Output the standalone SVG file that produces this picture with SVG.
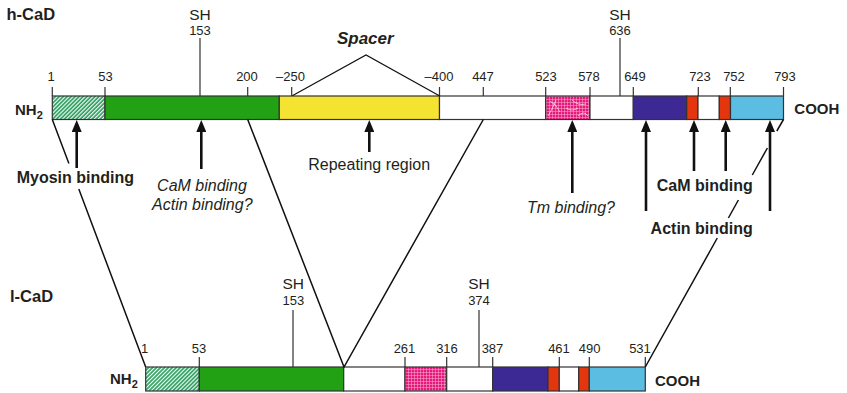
<svg xmlns="http://www.w3.org/2000/svg" width="847" height="393" viewBox="0 0 847 393">
<defs>
<pattern id="hatch" patternUnits="userSpaceOnUse" width="2.8" height="2.8" patternTransform="rotate(45)">
<rect width="2.8" height="2.8" fill="#ffffff"/>
<line x1="1" y1="0" x2="1" y2="2.8" stroke="#1e9a55" stroke-width="1.6"/>
</pattern>
<pattern id="pink" patternUnits="userSpaceOnUse" width="3" height="3">
<rect width="3" height="3" fill="#e8197c"/>
<path d="M0,0.3 H3 M0.3,0 V3" stroke="#f7b8d4" stroke-width="0.6"/>
</pattern>
<marker id="ahd" viewBox="0 0 12 10" refX="0" refY="5" markerWidth="12" markerHeight="10" markerUnits="userSpaceOnUse" orient="auto">
<path d="M0,0 L12,5 L0,10 z" fill="#111"/>
</marker>
</defs>
<style>
.seg{stroke:#333;stroke-width:1.2}
.tick{stroke:#333;stroke-width:1.2;fill:none}
.num{font-family:"Liberation Sans",Arial,sans-serif;font-size:13px;fill:#231f20;text-anchor:middle}
.sh{font-family:"Liberation Sans",Arial,sans-serif;font-size:15.5px;fill:#231f20;text-anchor:middle}
.lbl{font-family:"Liberation Sans",Arial,sans-serif;font-size:16px;fill:#231f20}
.b{font-weight:bold}
.i{font-style:italic}
.mid{text-anchor:middle}
.arrow{stroke:#111;stroke-width:2.6;fill:none;marker-end:url(#ahd)}
.conn{stroke:#111;stroke-width:1.5;fill:none}
.sp{stroke:#111;stroke-width:1.2;fill:none}
</style>

<g id="h-CaD">
<text class="lbl b" x="6.5" y="20" style="font-size:16.5px">h-CaD</text>
<text class="lbl b" x="15" y="115" style="font-size:15px">NH<tspan dy="4" style="font-size:11px">2</tspan></text>
<text class="lbl b" x="794.3" y="114" style="font-size:15px">COOH</text>
<g id="h-bar">
<rect class="seg" x="52.3" y="96" width="52.7" height="23.5" fill="url(#hatch)"/>
<rect class="seg" x="105" y="96" width="174.3" height="23.5" fill="#22a114"/>
<rect class="seg" x="279.3" y="96" width="160.2" height="23.5" fill="#f5e331"/>
<rect class="seg" x="439.5" y="96" width="106.2" height="23.5" fill="#ffffff"/>
<rect class="seg" x="545.7" y="96" width="44.3" height="23.5" fill="url(#pink)"/>
<path d="M550,101 Q556,104 560,112 M556,100 Q552,110 548,116 M572,100 Q578,106 586,104 M578,116 Q584,110 588,116 M566,108 Q572,112 578,108" stroke="#fff" stroke-width="0.8" fill="none" opacity="0.8"/>
<rect class="seg" x="590" y="96" width="43.3" height="23.5" fill="#ffffff"/>
<rect class="seg" x="633.3" y="96" width="53.4" height="23.5" fill="#3d2993"/>
<rect class="seg" x="686.7" y="96" width="11.3" height="23.5" fill="#e3360f"/>
<rect class="seg" x="698" y="96" width="21.3" height="23.5" fill="#ffffff"/>
<rect class="seg" x="719.3" y="96" width="11.2" height="23.5" fill="#e3360f"/>
<rect class="seg" x="730.5" y="96" width="53" height="23.5" fill="#5bbde1"/>
</g>
<g id="h-ticks">
<path class="tick" d="M52.3,87V96 M105,87V96 M247.7,87V96 M291.7,87V96 M439.5,87V96 M483.3,87V96 M545.7,87V96 M590,87V96 M633.3,87V96 M698.3,87V96 M730.3,87V96 M783.5,87V96 M200,38V96 M620,38V96"/>
<text class="num" x="51" y="80.5">1</text>
<text class="num" x="105.5" y="80.5">53</text>
<text class="num" x="247" y="80.5">200</text>
<text class="num" x="290.5" y="80.5">–250</text>
<text class="num" x="439" y="80.5">–400</text>
<text class="num" x="483" y="80.5">447</text>
<text class="num" x="546" y="80.5">523</text>
<text class="num" x="589" y="80.5">578</text>
<text class="num" x="635" y="80.5">649</text>
<text class="num" x="700" y="80.5">723</text>
<text class="num" x="734" y="80.5">752</text>
<text class="num" x="785" y="80.5">793</text>
<text class="sh" x="200" y="20">SH</text>
<text class="num" x="200" y="35">153</text>
<text class="sh" x="620" y="20">SH</text>
<text class="num" x="620" y="35">636</text>
</g>
<g id="spacer">
<path class="sp" d="M292.3,95.7 L366,55 L439.3,95.7"/>
<text class="lbl b i mid" x="365.3" y="44" style="font-size:17px">Spacer</text>
</g>
</g>

<g id="l-CaD">
<text class="lbl b" x="10" y="301.5" style="font-size:16.5px">l-CaD</text>
<text class="lbl b" x="110" y="384" style="font-size:15px">NH<tspan dy="4" style="font-size:11px">2</tspan></text>
<text class="lbl b" x="655" y="385.5" style="font-size:15px">COOH</text>
<g id="l-bar">
<rect class="seg" x="145.7" y="367" width="53.6" height="24" fill="url(#hatch)"/>
<rect class="seg" x="199.3" y="367" width="144.4" height="24" fill="#22a114"/>
<rect class="seg" x="343.7" y="367" width="61.3" height="24" fill="#ffffff"/>
<rect class="seg" x="405" y="367" width="41.7" height="24" fill="url(#pink)"/>
<rect class="seg" x="446.7" y="367" width="46" height="24" fill="#ffffff"/>
<rect class="seg" x="492.7" y="367" width="55.3" height="24" fill="#3d2993"/>
<rect class="seg" x="548" y="367" width="11.3" height="24" fill="#e3360f"/>
<rect class="seg" x="559.3" y="367" width="19.4" height="24" fill="#ffffff"/>
<rect class="seg" x="578.7" y="367" width="10.6" height="24" fill="#e3360f"/>
<rect class="seg" x="589.3" y="367" width="56" height="24" fill="#5bbde1"/>
</g>
<g id="l-ticks">
<path class="tick" d="M199.3,357V367 M405,357V367 M446.7,357V367 M492.7,357V367 M559.3,357V367 M589.3,357V367 M645.3,357V367 M293,310V367 M479,310V367"/>
<text class="num" x="144.5" y="352.5">1</text>
<text class="num" x="199" y="352.5">53</text>
<text class="num" x="404.5" y="352.5">261</text>
<text class="num" x="447" y="352.5">316</text>
<text class="num" x="492.5" y="352.5">387</text>
<text class="num" x="559" y="352.5">461</text>
<text class="num" x="589.7" y="352.5">490</text>
<text class="num" x="640" y="352.5">531</text>
<text class="sh" x="293.3" y="289.3">SH</text>
<text class="num" x="293.3" y="305">153</text>
<text class="sh" x="479" y="289.3">SH</text>
<text class="num" x="479" y="305">374</text>
</g>
</g>

<g id="connectors">
<path class="conn" d="M52.3,119.5 L68.9,163.5 M78.8,189 L145.7,367"/>
<path class="conn" d="M247.7,119.5 L344,367 L483.3,119.5"/>
<path class="conn" d="M783.5,119.5 L776.8,131 M767.4,148 L752.3,175 M738.4,200 L728.4,218 M717.3,238 L645.3,367"/>
</g>

<g id="arrows">
<path class="arrow" d="M76.7,168 V132"/>
<path class="arrow" d="M201.3,169 V132"/>
<path class="arrow" d="M369.3,152 V132"/>
<path class="arrow" d="M572.3,193 V132"/>
<path class="arrow" d="M646,211 V132"/>
<path class="arrow" d="M694,171 V132"/>
<path class="arrow" d="M725.7,171 V132"/>
<path class="arrow" d="M770,211 V132"/>
</g>

<g id="labels">
<text class="lbl b" x="16.7" y="182.5">Myosin binding</text>
<text class="lbl i mid" x="202" y="191">CaM binding</text>
<text class="lbl i mid" x="202.3" y="209.5">Actin binding?</text>
<text class="lbl mid" x="369.2" y="170">Repeating region</text>
<text class="lbl i mid" x="571" y="213.3">Tm binding?</text>
<text class="lbl b mid" x="704.7" y="190.7">CaM binding</text>
<text class="lbl b mid" x="701.7" y="234">Actin binding</text>
</g>
</svg>
